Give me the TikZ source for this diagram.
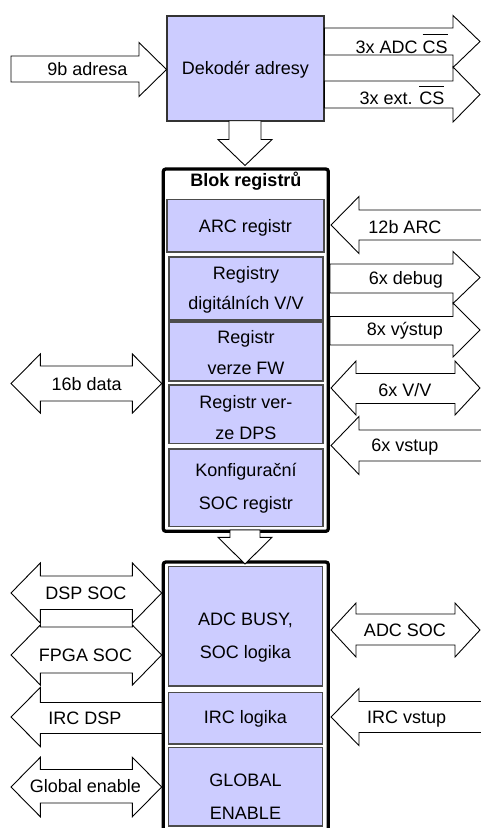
\documentclass[tikz,border=0pt]{standalone}
\usepackage{fontspec}
\setmainfont{Liberation Sans}
\definecolor{boxblue}{HTML}{CCCCFF}
\newcommand{\ovl}[1]{\setbox0=\hbox{#1}\rlap{\rule[18pt]{\wd0}{1pt}}\box0}
% right arrow: x-left, x-tip, yc, shaft top, shaft bottom, head half, head length
\newcommand{\ArrR}[7]{\draw[barrow] (#1,#4) -- (#2-#7,#4) -- (#2-#7,#3-#6) -- (#2,#3) -- (#2-#7,#3+#6) -- (#2-#7,#5) -- (#1,#5) -- cycle;}
% left arrow: x-tip, x-right, yc, shaft top, shaft bottom, head half, head length
\newcommand{\ArrL}[7]{\draw[barrow] (#2,#4) -- (#1+#7,#4) -- (#1+#7,#3-#6) -- (#1,#3) -- (#1+#7,#3+#6) -- (#1+#7,#5) -- (#2,#5) -- cycle;}
% double arrow
\newcommand{\ArrB}[7]{\draw[barrow] (#1+#7,#4) -- (#2-#7,#4) -- (#2-#7,#3-#6) -- (#2,#3) -- (#2-#7,#3+#6) -- (#2-#7,#5) -- (#1+#7,#5) -- (#1+#7,#3+#6) -- (#1,#3) -- (#1+#7,#3-#6) -- cycle;}
% down arrow: xc, y-top, y-head, y-tip, shaft half, head half
\newcommand{\ArrDn}[6]{\draw[barrow] (#1-#5,#2) -- (#1+#5,#2) -- (#1+#5,#3) -- (#1+#6,#3) -- (#1,#4) -- (#1-#6,#3) -- (#1-#5,#3) -- cycle;}
\tikzset{
  barrow/.style={draw=black, fill=white, line width=0.9pt, line join=miter},
  regbox/.style={draw=black!70, fill=boxblue, line width=1.1pt},
  outerblk/.style={draw=black, fill=white, line width=3.3pt, rounded corners=2.5pt},
  lbl/.style={font=\fontsize{18}{20}\selectfont, inner sep=0pt, text height=12.9pt, text depth=0pt, anchor=center},
  ttl/.style={lbl, font=\fontsize{18}{20}\selectfont\bfseries}
}
\begin{document}
\begin{tikzpicture}[x=1pt,y=-1pt]
\clip (0,0) rectangle (481,828);
\fill[white] (0,0) rectangle (481,828);

% ---- Dekoder
\draw[regbox, draw=black!80] (167,16) rectangle (324,121);
\node[lbl] (dek) at (245.5,68.3) {Dekodér adresy};

% ---- Blok registru
\draw[outerblk] (163.3,169) rectangle (328.3,531.3);
\node[ttl] (blok) at (246,180.5) {Blok registrů};
\draw[regbox] (167,199.5) rectangle (324,252);
\node[lbl] (arc) at (245.5,226) {ARC registr};
\draw[regbox] (169,257) rectangle (323,320);
\node[lbl] (dig1) at (246,273.3) {Registry};
\node[lbl] (dig2) at (246,303.3) {digitálních V/V};
\draw[regbox] (169,322) rectangle (323,381);
\node[lbl] (fw1) at (246,336.7) {Registr};
\node[lbl] (fw2) at (246,368.3) {verze FW};
\draw[regbox] (169,385) rectangle (323,443.3);
\node[lbl] (dps1) at (246,401.7) {Registr ver-};
\node[lbl] (dps2) at (246,433) {ze DPS};
\draw[regbox] (169,449) rectangle (323,526.7);
\node[lbl] (soc1) at (246,470.3) {Konfigurační};
\node[lbl] (soc2) at (246,503) {SOC registr};

% ---- bottom block
\draw[outerblk] (163.3,562) rectangle (328.3,850);
\draw[regbox] (168.3,566.7) rectangle (322.7,686);
\node[lbl] (busy1) at (245.5,618.8) {ADC BUSY,};
\node[lbl] (busy2) at (245.5,652.2) {SOC logika};
\draw[regbox] (168.3,692.3) rectangle (322.7,744);
\node[lbl] (irc) at (245.5,716.7) {IRC logika};
\draw[regbox] (168.3,747.3) rectangle (322.7,826);
\node[lbl] (ge1) at (245.5,780.3) {GLOBAL};
\node[lbl] (ge2) at (245.5,813.3) {ENABLE};

% ---- arrows
\ArrR{11}{166.5}{69.5}{56}{82}{27}{27.5}
\node[lbl] (adr) at (87.5,69.2) {9b adresa};

\ArrR{324.3}{480}{41.5}{28}{55}{26}{27}
\node[lbl] (adccs) at (401.7,46.7) {3x ADC \ovl{CS}};
\ArrR{324.3}{480}{94.5}{81}{108}{27.5}{27}
\node[lbl] (extcs) at (402,98.3) {3x ext. \ovl{CS}};

\ArrDn{245}{120.7}{139.5}{165.5}{16}{27}
\ArrDn{245}{530}{537.3}{564}{15}{27}

\ArrL{331}{490}{225}{210}{240}{28.5}{28}
\node[lbl] (arcin) at (405,227) {12b ARC};
\ArrR{330}{480}{277.5}{264}{293}{26}{27}
\node[lbl] (dbg) at (405.8,278) {6x debug};
\ArrR{330}{480}{330}{316.5}{345}{27}{27}
\node[lbl] (vyst) at (405,329.2) {8x výstup};
\ArrB{331}{480}{388}{373.5}{403.5}{27}{25}
\node[lbl] (vv) at (405,390) {6x V/V};
\ArrL{331}{490}{445.5}{430}{461}{29}{28}
\node[lbl] (vst) at (405,445) {6x vstup};

\ArrB{11}{161.7}{383.5}{366}{401}{29.5}{29.3}
\node[lbl] (data) at (86.7,384.5) {16b data};
\ArrB{11}{161.7}{655}{627}{673}{30}{29.3}
\node[lbl] (fpga) at (85.5,655) {FPGA SOC};
\ArrB{11}{161.7}{593}{576}{609.5}{30}{29.3}
\node[lbl] (dsp) at (85.8,592.7) {DSP SOC};
\ArrL{11}{162}{717}{702.5}{733.5}{29.5}{29.3}
\node[lbl] (ircdsp) at (85,718.3) {IRC DSP};
\ArrB{11}{161.7}{787}{769.5}{803}{29.7}{29.3}
\node[lbl] (gen) at (85.5,786.3) {Global enable};

\ArrB{331}{480}{630}{614}{645}{27}{25}
\node[lbl] (adcsoc) at (405,629.7) {ADC SOC};
\ArrL{331}{490}{717}{701.5}{732.5}{28.5}{28}
\node[lbl] (ircin) at (406.7,716.7) {IRC vstup};
\end{tikzpicture}
\end{document}
